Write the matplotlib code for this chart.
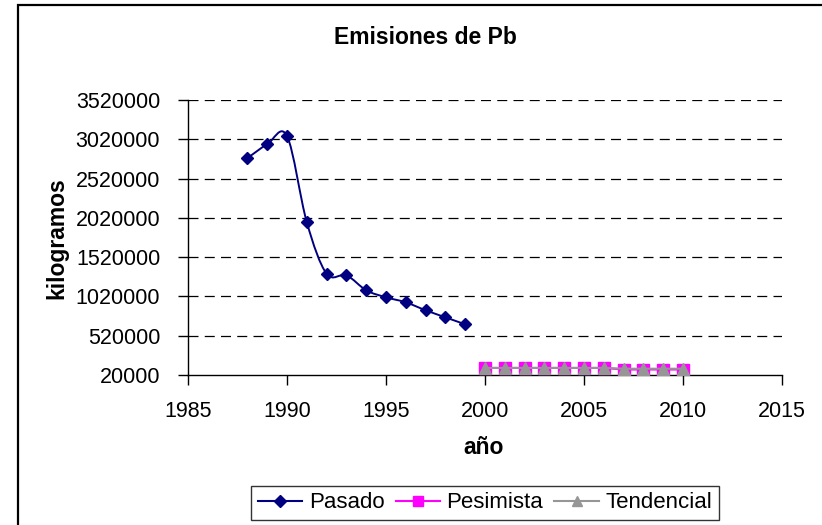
import numpy as np
import matplotlib
matplotlib.use("Agg")
import matplotlib.pyplot as plt
from matplotlib.path import Path
from matplotlib.patches import PathPatch, Rectangle
from matplotlib.lines import Line2D

plt.rcParams['font.family'] = ['Liberation Sans', 'DejaVu Sans']

# data
pasado_years = [1988, 1989, 1990, 1991, 1992, 1993, 1994, 1995, 1996, 1997, 1998, 1999]
pasado_kg = [2780000, 2956000, 3062000, 1964000, 1309000, 1289000, 1098000,
             1009000, 945000, 844000, 754000, 665000]

escenario_years = [2000, 2001, 2002, 2003, 2004, 2005, 2006, 2007, 2008, 2009, 2010]
pesimista_kg = [110000, 110000, 110000, 110000, 110000, 110000, 110000,
                90000, 90000, 90000, 90000]
tendencial_kg = [110000, 110000, 110000, 110000, 110000, 110000, 110000,
                 100000, 100000, 100000, 100000]

y_ticks = [20000, 520000, 1020000, 1520000, 2020000, 2520000, 3020000, 3520000]
x_ticks = [1985, 1990, 1995, 2000, 2005, 2010, 2015]

NAVY = '#000080'
MAGENTA = '#FF00FF'
GRAY = '#969696'


def smooth_path(x, y):
    """Excel style smoothed line as cubic bezier segments."""
    pts = np.column_stack([x, y]).astype(float)
    n = len(pts)
    verts = [pts[0]]
    codes = [Path.MOVETO]
    for i in range(n - 1):
        p0 = pts[i - 1] if i > 0 else pts[i]
        p1 = pts[i]
        p2 = pts[i + 1]
        p3 = pts[i + 2] if i + 2 < n else pts[i + 1]
        c1 = p1 + (p2 - p0) / 6.0
        c2 = p2 - (p3 - p1) / 6.0
        verts += [c1, c2, p2]
        codes += [Path.CURVE4] * 3
    return Path(verts, codes)


fig = plt.figure(figsize=(8.22, 5.25), dpi=100)
ax = fig.add_axes([188 / 822, 1 - 375 / 525, (782 - 188) / 822, (375 - 100) / 525])

# chart area frame
fig.patches.append(Rectangle((17.5 / 822, -0.1), 1.2, 1 - 4.5 / 525 + 0.1,
                             transform=fig.transFigure, fill=False,
                             edgecolor='black', linewidth=1.6))

# grid lines
for yt in y_ticks[1:]:
    ax.axhline(yt, color='black', linewidth=0.9, dashes=(8, 5), zorder=1)

# Pasado: smoothed line plus diamonds
ax.add_patch(PathPatch(smooth_path(pasado_years, pasado_kg), facecolor='none',
                       edgecolor=NAVY, linewidth=1.4, zorder=3))
ax.plot(pasado_years, pasado_kg, linestyle='none', marker='D', markersize=6.5,
        color=NAVY, zorder=4)

# scenarios
ax.plot(escenario_years, pesimista_kg, color=MAGENTA, linewidth=1.5, marker='s',
        markersize=8, zorder=4)
ax.plot(escenario_years, tendencial_kg, color=GRAY, linewidth=1.5, marker='^',
        markersize=8, zorder=5)

ax.set_xlim(1985, 2015)
ax.set_ylim(20000, 3520000)
ax.set_xticks(x_ticks)
ax.set_yticks(y_ticks)
ax.set_yticklabels([str(v) for v in y_ticks])
ax.tick_params(axis='both', direction='out', length=7, width=1, labelsize=15.5,
               colors='black')
ax.tick_params(axis='y', pad=13)
ax.tick_params(axis='x', pad=12)
for side in ['top', 'right']:
    ax.spines[side].set_visible(False)
for side in ['left', 'bottom']:
    ax.spines[side].set_linewidth(1)
    ax.spines[side].set_color('black')

fig.text(425 / 822, 1 - 37 / 525, 'Emisiones de Pb', ha='center', va='center',
         fontsize=16.5, fontweight='bold')
fig.text(57 / 822, 1 - 238 / 525, 'kilogramos', ha='center', va='center',
         rotation=90, fontsize=16.5, fontweight='bold')
fig.text(484 / 822, 1 - 448 / 525, 'año', ha='center', va='center',
         fontsize=16.5, fontweight='bold')

handles = [
    Line2D([], [], color=NAVY, linewidth=1.5, marker='D', markersize=6.5),
    Line2D([], [], color=MAGENTA, linewidth=1.5, marker='s', markersize=7.5),
    Line2D([], [], color=GRAY, linewidth=1.5, marker='^', markersize=7.5),
]
leg = fig.legend(handles, ['Pasado', 'Pesimista', 'Tendencial'], loc='center',
                 bbox_to_anchor=(485 / 822, 1 - 503 / 525), ncol=3, fontsize=16,
                 frameon=True, fancybox=False, handlelength=2.0, handletextpad=0.3,
                 columnspacing=0.5, borderpad=0.3)
leg.get_frame().set_edgecolor('black')
leg.get_frame().set_linewidth(1)

fig.savefig('out.png', dpi=100)
